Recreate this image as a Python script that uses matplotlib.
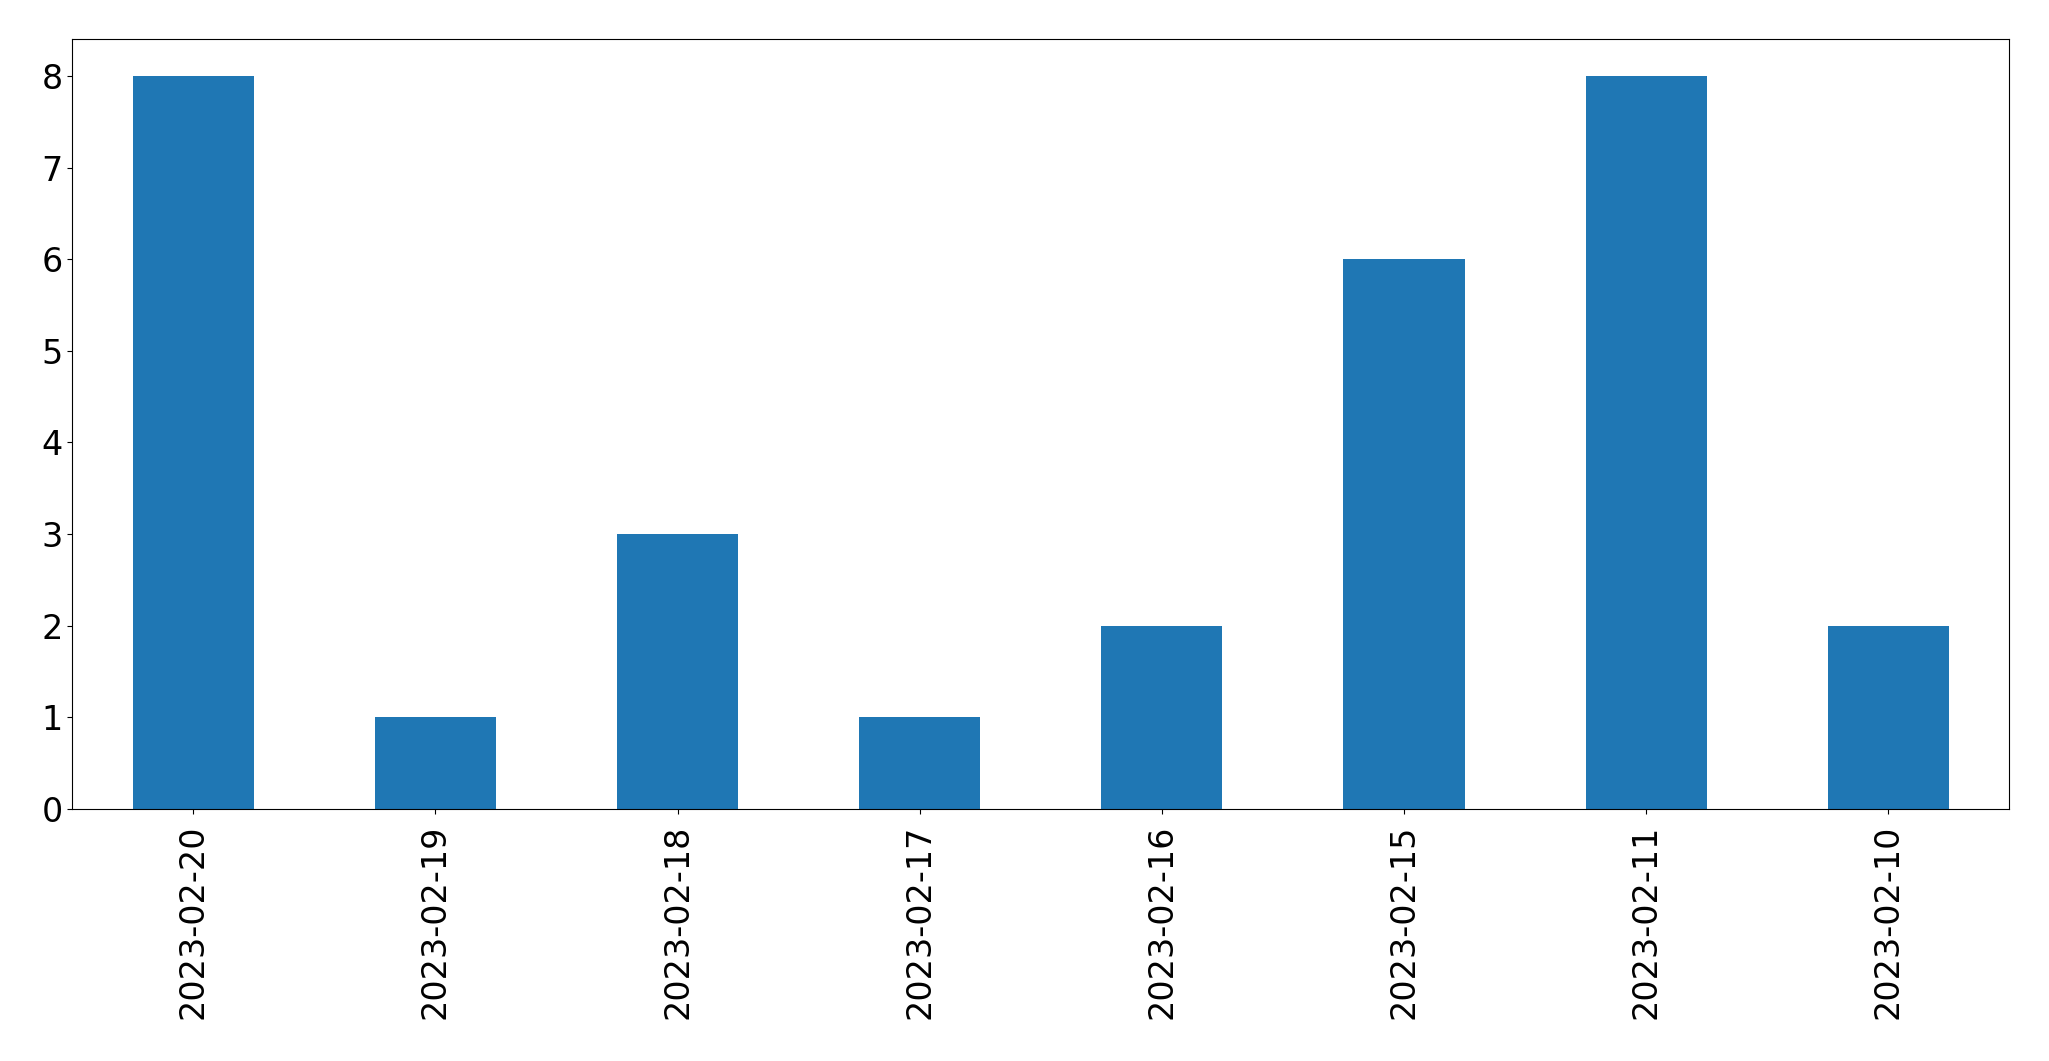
import matplotlib
matplotlib.use("Agg")
import matplotlib.pyplot as plt
import numpy as np

# contagem por dia
dias = ["2023-02-20", "2023-02-19", "2023-02-18", "2023-02-17",
        "2023-02-16", "2023-02-15", "2023-02-11", "2023-02-10"]
contagem = [8, 1, 3, 1, 2, 6, 8, 2]

fig = plt.figure(figsize=(20.49, 10.61), dpi=100)
ax = fig.add_axes([0.03529, 0.23751, 0.98063 - 0.03529, 0.96296 - 0.23751])

x = np.arange(len(dias))
ax.bar(x, contagem, width=0.5, color="#1f77b4")
ax.set_xlim(-0.5, len(dias) - 0.5)
ax.set_ylim(0, 8.4)
ax.set_xticks(x)
ax.set_xticklabels(dias, rotation=90)
ax.set_yticks(range(0, 9))
ax.tick_params(axis="both", labelsize=24)
ax.tick_params(axis="x", pad=8)

fig.savefig("out.png", dpi=100)
